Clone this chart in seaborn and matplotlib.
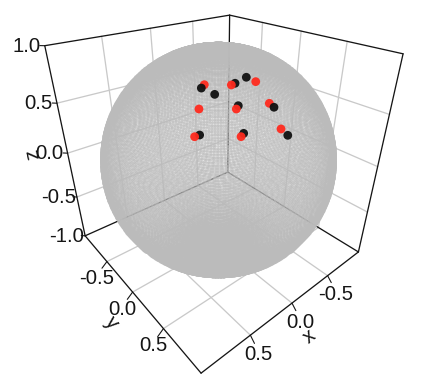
import numpy as np, pandas as pd
import matplotlib
matplotlib.use("Agg")
import matplotlib.pyplot as plt
import seaborn as sns

# ---- data (unit sphere coordinates) ----
black_x = [0.405, 0.368, 0.198, 0.087, 0.285, 0.047, 0.349, 0.585, 0.046]
black_y = [0.304, 0.406, 0.426, 0.423, 0.559, 0.672, 0.688, 0.509, 0.818]
black_z = [0.862, 0.836, 0.883, 0.902, 0.778, 0.739, 0.636, 0.631, 0.574]
red_x = [0.374, 0.230, 0.048, 0.505, 0.310, 0.065, 0.080, 0.613, 0.374]
red_y = [0.299, 0.423, 0.481, 0.403, 0.567, 0.642, 0.781, 0.490, 0.690]
red_z = [0.878, 0.877, 0.876, 0.763, 0.763, 0.764, 0.620, 0.620, 0.620]
red_under_black = [True, False, False, False, False, True, False, False, False]
x_ticks = [-0.5, 0.0, 0.5]
y_ticks = [-0.5, 0.0, 0.5]
z_ticks = [-1.0, -0.5, 0.0, 0.5, 1.0]

# ---- camera: perspective projection of the box onto the canvas ----
P = np.array([
    [-116.8977, 31.6569, -29.5006, 218.1050],
    [11.4204, 13.4812, -116.7347, 159.6835],
    [-0.14891, -0.17802, -0.13442, 1.0],
])

def project(x, y, z):
    h = P @ np.vstack([x, y, z, np.ones_like(np.asarray(x, float))])
    return h[0] / h[2], h[1] / h[2], h[2]

def segs(pairs):
    rows = []
    for i, (a, b) in enumerate(pairs):
        u, v, _ = project(*np.array([a, b], float).T)
        rows += [dict(u=u[j], v=v[j], seg=i) for j in range(2)]
    return pd.DataFrame(rows)

sns.set_theme(style="white", rc={"font.family": ["Liberation Sans", "DejaVu Sans"]})
fig = plt.figure(figsize=(4.23, 3.89), dpi=100)
ax = fig.add_axes([0, 0, 1, 1])
PX = 72 / 100

def draw(pairs, color, lw, z):
    sns.lineplot(data=segs(pairs), x="u", y="v", units="seg", estimator=None, sort=False,
                 color=color, linewidth=lw * PX, ax=ax, zorder=z, legend=False)

# grid on the floor and two back walls
grid = []
for t in x_ticks:
    grid += [((t, -1, -1), (t, 1, -1)), ((t, -1, -1), (t, -1, 1))]
for t in y_ticks:
    grid += [((-1, t, -1), (1, t, -1)), ((-1, t, -1), (-1, t, 1))]
for t in z_ticks[1:-1]:
    grid += [((-1, -1, t), (1, -1, t)), ((-1, -1, t), (-1, 1, t))]
draw(grid, "#c9c9c9", 1.3, 1)

box = [((1, -1, 1), (-1, -1, 1)), ((-1, -1, 1), (-1, 1, 1)),
       ((1, -1, 1), (1, -1, -1)), ((-1, 1, 1), (-1, 1, -1)),
       ((-1, -1, 1), (-1, -1, -1)), ((1, -1, -1), (-1, -1, -1)),
       ((-1, -1, -1), (-1, 1, -1)), ((1, -1, -1), (1, 1, -1)), ((1, 1, -1), (-1, 1, -1))]
draw(box, "#151515", 1.3, 2)

ticks = [((t, 1, -1), (t, 1.05, -1.05)) for t in x_ticks]
ticks += [((1, t, -1), (1.06, t, -1.05)) for t in y_ticks]
ticks += [((1, -1, t), (1.03, -1.03, t)) for t in z_ticks]
draw(ticks, "#151515", 1.1, 2)

# translucent sphere
th = np.linspace(0, np.pi, 181)
ph = np.linspace(0, 2 * np.pi, 361)[:-1]
T, F = np.meshgrid(th, ph)
R = 1.025
su, sv, _ = project((R * np.sin(T) * np.cos(F)).ravel(), (R * np.sin(T) * np.sin(F)).ravel(), (R * np.cos(T)).ravel())
sns.scatterplot(x=su, y=sv, color="#bbbbbb", s=3.0, alpha=0.42, linewidth=0, ax=ax, zorder=3, legend=False)

# observations, in the stacking order of the picture
reds = pd.DataFrame({"x": red_x, "y": red_y, "z": red_z, "group": "red", "under": red_under_black})
blacks = pd.DataFrame({"x": black_x, "y": black_y, "z": black_z, "group": "black"})
pts = pd.concat([reds[reds.under], blacks, reds[~reds.under]], ignore_index=True)
pts["u"], pts["v"], _ = project(pts.x.values, pts.y.values, pts.z.values)
sns.scatterplot(data=pts, x="u", y="v", hue="group", palette={"black": "#111111", "red": "#ff2a1e"},
                s=40, alpha=0.95, linewidth=0, ax=ax, zorder=4, legend=False)

FS = 14.6
def label(x, y, z, dx, dy, s, **kw):
    u, v, _ = project(np.array([x], float), np.array([y], float), np.array([z], float))
    ax.text(u[0] + dx, v[0] + dy, s, ha="center", va="center", fontsize=kw.pop("fs", FS), color="#151515", zorder=5, **kw)

for t in x_ticks:
    label(t, 1, -1, 8.5, 19, f"{t:.1f}")
for t in y_ticks:
    label(1, t, -1, -10, 17, f"{t:.1f}")
for t in z_ticks:
    label(1, -1, t, -18.5, 0.5, f"{t:.1f}")
ax.text(309, 337, "x", rotation=38, ha="center", va="center", fontsize=FS, color="#151515", zorder=5)
ax.text(112, 323, "y", rotation=-50, ha="center", va="center", fontsize=FS, color="#151515", zorder=5)
ax.text(33, 154, "z", rotation=102, ha="center", va="center", fontsize=FS, color="#151515", zorder=5)

ax.set_xlim(0, 423)
ax.set_ylim(389, 0)
ax.axis("off")
fig.savefig("out.png", dpi=100)
